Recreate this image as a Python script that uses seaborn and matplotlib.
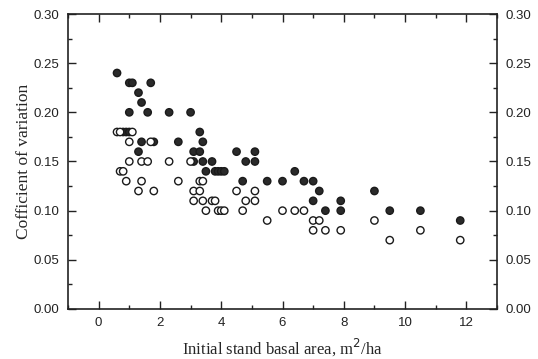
import matplotlib
matplotlib.use("Agg")
import matplotlib.pyplot as plt
from matplotlib.ticker import MultipleLocator, FormatStrFormatter
import pandas as pd
import seaborn as sns

# Filled symbols
filled_x = [0.6, 1.0, 1.1, 1.7, 1.3, 1.4, 1.0, 1.6, 2.3, 3.0,
            0.8, 0.9, 1.0, 3.3,
            1.4, 1.8, 2.6, 3.4,
            1.3, 3.1, 3.3, 4.5, 5.1,
            3.1, 3.4, 3.7, 4.8, 5.1,
            3.5, 3.8, 3.9, 4.0, 4.1, 6.4,
            4.7, 5.5, 6.0, 6.7, 7.0,
            7.2, 9.0,
            7.0, 7.9,
            7.4, 7.9, 9.5, 10.5,
            11.8]
filled_cv = [0.24, 0.23, 0.23, 0.23, 0.22, 0.21, 0.20, 0.20, 0.20, 0.20,
             0.18, 0.18, 0.18, 0.18,
             0.17, 0.17, 0.17, 0.17,
             0.16, 0.16, 0.16, 0.16, 0.16,
             0.15, 0.15, 0.15, 0.15, 0.15,
             0.14, 0.14, 0.14, 0.14, 0.14, 0.14,
             0.13, 0.13, 0.13, 0.13, 0.13,
             0.12, 0.12,
             0.11, 0.11,
             0.10, 0.10, 0.10, 0.10,
             0.09]

# Open symbols
open_x = [0.6, 0.7, 1.1,
          1.0, 1.7,
          1.0, 1.4, 1.6, 2.3, 3.0,
          0.7, 0.8,
          0.9, 1.4, 2.6, 3.3, 3.4,
          1.3, 1.8, 3.1, 3.3, 4.5, 5.1,
          3.1, 3.4, 3.7, 3.8, 4.8, 5.1,
          3.5, 3.9, 4.0, 4.1, 4.7, 6.0, 6.4, 6.7,
          5.5, 7.0, 7.2, 9.0,
          7.0, 7.4, 7.9, 10.5,
          9.5, 11.8]
open_cv = [0.18, 0.18, 0.18,
           0.17, 0.17,
           0.15, 0.15, 0.15, 0.15, 0.15,
           0.14, 0.14,
           0.13, 0.13, 0.13, 0.13, 0.13,
           0.12, 0.12, 0.12, 0.12, 0.12, 0.12,
           0.11, 0.11, 0.11, 0.11, 0.11, 0.11,
           0.10, 0.10, 0.10, 0.10, 0.10, 0.10, 0.10, 0.10,
           0.09, 0.09, 0.09, 0.09,
           0.08, 0.08, 0.08, 0.08,
           0.07, 0.07]

df = pd.DataFrame({
    "basal_area": filled_x + open_x,
    "cv": filled_cv + open_cv,
    "group": ["filled"] * len(filled_x) + ["open"] * len(open_x),
})

sns.set_style("ticks")
plt.rcParams["font.family"] = ["Liberation Sans", "DejaVu Sans"]
plt.rcParams["xtick.direction"] = "in"
plt.rcParams["ytick.direction"] = "in"

fig = plt.figure(figsize=(5.38, 3.59), dpi=100)
ax = fig.add_axes([0.1264, 0.1393, 0.7974, 0.8217])

sns.scatterplot(data=df, x="basal_area", y="cv", hue="group",
                palette={"filled": "#2a2a2a", "open": "white"},
                edgecolor="#1a1a1a", linewidth=1.0, s=28,
                legend=False, ax=ax, zorder=3)

ax.set_xlim(-1, 13)
ax.set_ylim(0, 0.30)
ax.xaxis.set_major_locator(MultipleLocator(2))
ax.xaxis.set_minor_locator(MultipleLocator(1))
ax.yaxis.set_major_locator(MultipleLocator(0.05))
ax.yaxis.set_minor_locator(MultipleLocator(0.025))
ax.yaxis.set_major_formatter(FormatStrFormatter("%.2f"))

ax.tick_params(which="both", top=True, right=True, labelright=True,
               labelsize=9.5, colors="#222222", width=1.0)
ax.tick_params(which="major", length=6, pad=6)
ax.tick_params(which="minor", length=3)

for sp in ax.spines.values():
    sp.set_linewidth(1.2)
    sp.set_color("#222222")

serif = ["Liberation Serif", "DejaVu Serif"]
ax.set_xlabel("Initial stand basal area, m$^2$/ha", fontsize=12,
              family=serif, labelpad=5)
ax.set_ylabel("Cofficient of variation", fontsize=12.5,
              family=serif, labelpad=1)

fig.savefig("out.png", dpi=100)
